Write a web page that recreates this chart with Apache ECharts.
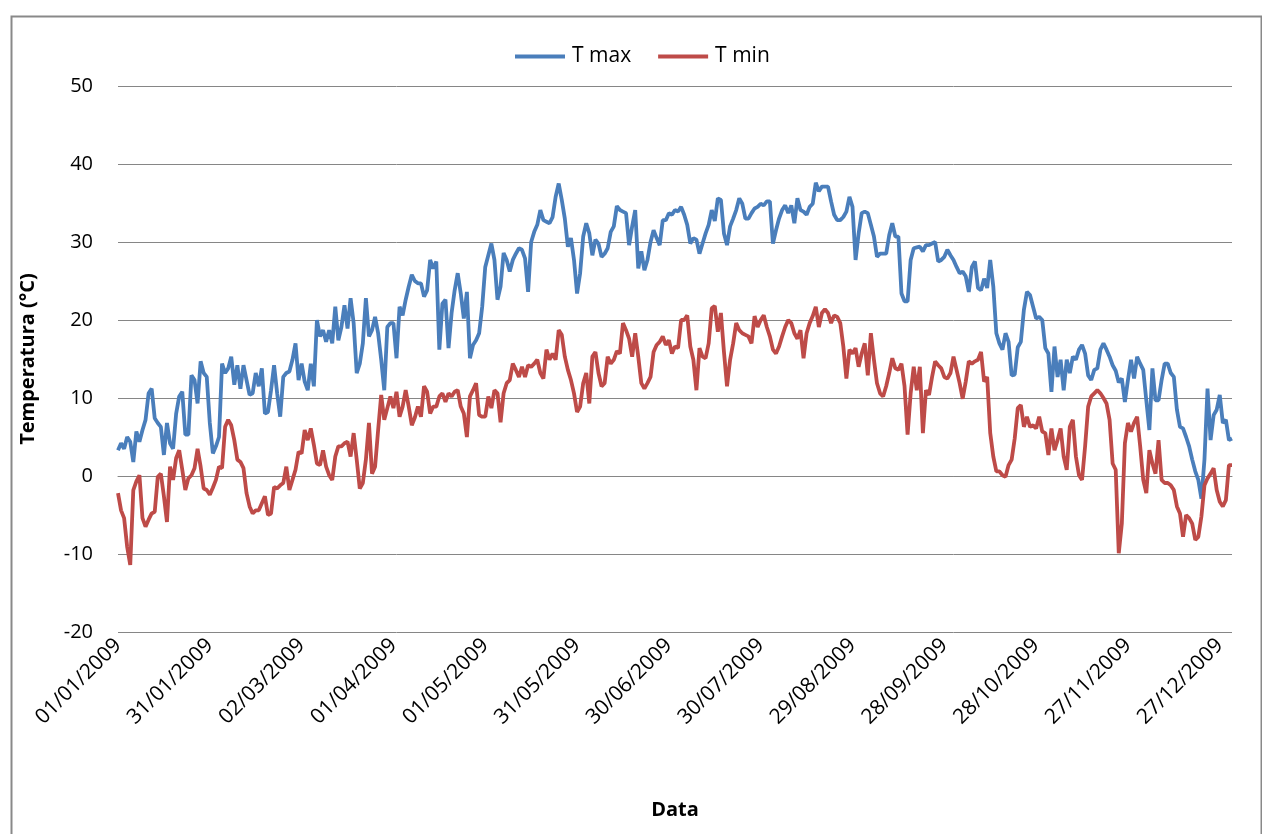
<!DOCTYPE html>
<html>
<head>
<meta charset="utf-8">
<script src="https://cdn.jsdelivr.net/npm/echarts@6/dist/echarts.min.js"></script>
<style>
html,body{margin:0;padding:0;background:#fff;}
#c{width:1262px;height:834px;}
</style>
</head>
<body>
<div id="c"></div>
<script>
const seriesNames = ['T max', 'T min'];
const tMax = [
3.3,4.2,3.5,5.0,4.4,1.8,5.7,4.4,5.9,7.2,
10.6,11.2,7.4,6.8,6.3,2.7,6.8,4.2,3.5,8.0,
10.2,10.8,5.3,5.3,12.9,12.3,9.3,14.7,13.2,12.7,
6.8,2.9,3.8,5.0,14.4,13.2,13.8,15.3,11.7,14.2,
11.2,14.2,12.3,10.4,10.6,13.2,11.5,13.8,8.0,8.2,
11.0,14.2,10.6,7.6,12.7,13.2,13.4,14.9,17.0,12.3,
14.4,12.1,11.0,14.4,11.5,20.0,17.9,18.7,17.2,18.7,
17.0,21.7,17.4,19.1,21.9,18.9,22.8,19.6,13.2,14.4,
17.0,22.8,17.9,18.7,20.4,18.3,14.9,11.0,19.1,19.6,
19.6,15.1,21.7,20.6,22.6,24.3,25.8,25.0,24.7,24.7,
23.0,23.8,27.7,26.6,27.5,16.2,22.1,22.6,16.4,20.9,
23.8,26.0,23.4,20.2,23.6,15.1,16.8,17.4,18.3,21.7,
26.8,28.3,29.8,27.7,22.6,24.3,28.6,27.7,26.2,27.7,
28.5,29.2,29.0,27.9,23.6,30.0,31.3,32.2,34.1,32.8,
32.6,32.4,33.2,35.8,37.5,35.4,33.0,29.4,30.5,27.7,
23.4,26.0,30.7,32.4,31.1,28.3,30.3,29.8,28.1,28.5,
29.2,31.3,32.0,34.6,34.1,33.9,33.7,29.6,32.0,34.1,
26.6,28.8,26.4,27.7,30.0,31.5,30.5,29.6,32.8,32.8,
33.7,33.5,34.1,33.9,34.5,33.5,32.2,29.8,30.5,30.3,
28.5,29.8,31.1,32.2,34.1,32.7,35.6,35.4,31.1,29.6,
32.0,33.0,34.1,35.6,34.9,33.0,33.0,33.7,34.3,34.5,
34.9,34.7,35.2,35.2,29.8,31.5,33.0,34.1,34.7,33.7,
34.7,32.4,35.6,34.1,33.9,33.5,34.5,34.9,37.6,36.5,
37.1,37.1,37.1,35.2,33.5,32.8,32.8,33.2,33.9,35.8,
34.5,27.7,31.1,33.7,33.9,33.7,32.2,30.7,28.1,28.5,
28.5,28.5,30.9,32.4,30.7,30.7,23.4,22.4,22.4,27.7,
29.2,29.3,29.4,28.8,29.6,29.6,29.8,30.0,27.5,27.7,
28.1,29.0,28.3,27.7,26.8,26.0,26.2,25.6,23.6,26.8,
27.5,24.1,23.8,25.3,24.1,27.7,24.3,18.3,17.0,16.2,
18.3,17.2,12.9,13.0,16.5,17.2,21.3,23.6,23.2,21.7,
20.2,20.4,20.0,16.4,15.7,10.8,16.6,12.7,14.9,11.0,
14.9,13.2,15.3,14.9,16.2,16.8,15.7,12.9,12.3,13.6,
13.8,16.2,17.0,16.2,15.3,14.2,13.5,12.0,12.5,9.5,
12.3,14.9,12.5,15.3,14.4,13.6,9.7,5.9,13.8,9.7,
9.7,12.3,14.4,14.4,13.2,12.7,8.5,6.3,6.1,5.0,
3.8,2.1,0.6,-0.5,-2.9,2.1,11.2,4.6,7.8,8.5,
10.4,6.8,7.2,4.6,4.8
];
const tMin = [
-2.2,-4.4,-5.4,-9.1,-11.4,-1.8,-0.7,0.1,-5.4,-6.5,
-5.6,-4.8,-4.6,-0.1,0.3,-2.6,-5.9,1.2,-0.5,2.3,
3.3,0.8,-1.8,-0.3,0.1,1.0,3.5,1.2,-1.6,-1.8,
-2.4,-1.5,-0.5,1.2,1.0,6.3,7.2,6.5,4.6,2.1,
1.8,1.0,-2.2,-3.9,-4.8,-4.4,-4.4,-3.5,-2.6,-5.0,
-4.8,-1.4,-1.6,-1.2,-0.9,1.2,-1.8,-0.5,0.8,3.1,
2.9,5.9,4.6,6.1,4.0,1.6,1.4,3.3,1.2,0.1,
-0.5,2.5,3.8,3.8,4.2,4.4,2.5,5.5,2.1,-1.6,
-0.9,2.1,6.8,0.3,1.2,5.9,10.4,7.2,8.7,10.2,
8.7,10.8,7.6,8.9,11.0,8.9,6.5,7.5,8.9,7.6,
11.5,10.8,8.0,8.9,8.9,10.2,10.6,9.5,10.6,10.2,
10.8,11.0,8.9,8.0,5.0,10.2,11.0,11.9,7.8,7.6,
7.6,10.2,8.7,11.0,10.6,6.9,10.6,11.9,12.3,14.4,
13.6,12.7,14.0,12.7,14.2,14.0,14.4,14.9,13.2,12.5,
16.2,14.9,15.7,14.9,18.7,18.1,15.3,13.6,12.3,10.6,
8.2,8.9,11.9,13.2,9.3,15.3,15.9,13.2,11.5,11.9,
15.3,14.4,14.9,16.0,15.7,19.6,18.7,17.6,15.3,18.3,
15.3,11.9,11.2,11.9,12.7,15.9,16.8,17.2,17.9,16.8,
17.4,15.7,16.6,16.4,20.0,20.0,20.6,16.6,14.9,11.0,
16.4,15.3,15.1,17.0,21.5,21.8,18.5,20.9,15.9,11.5,
14.9,17.0,19.6,18.7,18.3,18.1,17.9,17.0,20.5,19.1,
20.0,20.6,19.1,17.9,16.2,15.7,16.6,17.9,19.1,20.0,
19.6,18.3,17.6,18.7,15.1,18.3,19.6,20.5,21.7,19.1,
20.9,21.4,20.9,19.6,20.6,20.4,19.6,16.6,12.5,16.2,
15.7,16.4,14.0,15.7,17.0,12.9,18.3,14.9,11.9,10.6,
10.2,11.5,13.2,15.1,13.8,13.6,14.4,11.5,5.3,10.6,
14.0,11.0,14.0,5.5,11.0,10.4,12.7,14.7,14.2,13.8,
12.7,12.5,13.2,15.3,13.6,11.9,9.9,12.1,14.7,14.4,
14.7,14.9,15.9,12.1,12.7,5.5,2.5,0.6,0.6,0.1,
-0.1,1.4,2.1,4.8,8.7,9.1,6.3,7.6,6.3,6.5,
6.1,7.6,5.7,5.5,2.7,6.1,3.3,4.6,6.1,2.5,
0.8,6.3,7.2,2.5,0.1,-0.5,3.8,8.9,10.2,10.6,
11.0,10.6,10.0,9.3,7.2,1.6,0.8,-9.9,-6.1,4.2,
6.8,5.7,6.8,7.6,3.8,-0.5,-2.2,3.3,1.6,0.3,
4.6,-0.5,-0.9,-0.9,-1.2,-1.8,-3.9,-4.8,-7.8,-5.0,
-5.4,-6.1,-8.2,-7.8,-5.2,-1.2,-0.3,0.3,1.0,-1.8,
-3.3,-3.9,-3.1,1.4,1.4
];
// categories: every day of 2009, dd/mm/yyyy
const dates = [];
(function(){
  const d = new Date(Date.UTC(2009,0,1));
  for (let i = 0; i < tMax.length; i++) {
    const dd = String(d.getUTCDate()).padStart(2,'0');
    const mm = String(d.getUTCMonth()+1).padStart(2,'0');
    dates.push(dd + '/' + mm + '/' + d.getUTCFullYear());
    d.setUTCDate(d.getUTCDate()+1);
  }
})();
const yTitle = 'Temperatura (°C)';
const xTitle = 'Data';

const FONT = '"Open Sans", Lato, sans-serif';
const chart = echarts.init(document.getElementById('c'), null, {renderer:'canvas'});
chart.setOption({
  backgroundColor: '#fff',
  animation: false,
  graphic: [{
    type: 'rect', left: 9, top: 14,
    shape: {width: 1250, height: 830},
    style: {fill: 'none', stroke: '#898989', lineWidth: 2},
    silent: true, z: -1
  }],
  legend: {
    top: 41, left: 510,
    itemWidth: 50, itemHeight: 4, itemGap: 27,
    icon: 'rect',
    textStyle: {fontFamily: FONT, fontSize: 21, color: '#000', padding: [0, 0, 0, 2]},
    data: seriesNames
  },
  grid: {left: 118, right: 30, top: 86, bottom: 202},
  xAxis: {
    type: 'category',
    data: dates,
    boundaryGap: false,
    name: xTitle,
    nameLocation: 'middle',
    nameGap: 168,
    nameTextStyle: {fontFamily: FONT, fontSize: 20, fontWeight: 'bold', color: '#000'},
    axisLine: {show: true, lineStyle: {color: '#868686', width: 1}},
    axisTick: {show: false},
    axisLabel: {interval: 29, rotate: 45, fontFamily: FONT, fontSize: 21, color: '#000', margin: 10}
  },
  yAxis: {
    type: 'value',
    min: -20, max: 50, interval: 10,
    name: yTitle,
    nameLocation: 'middle',
    nameGap: 80,
    nameTextStyle: {fontFamily: FONT, fontSize: 20, fontWeight: 'bold', color: '#000'},
    axisLine: {show: false},
    axisTick: {show: false},
    axisLabel: {fontFamily: FONT, fontSize: 20, color: '#000', margin: 25},
    splitLine: {lineStyle: {color: '#868686', width: 1}}
  },
  series: [
    {name: seriesNames[0], type: 'line', data: tMax, showSymbol: false, symbol: 'none',
     lineStyle: {color: '#4A7EBB', width: 3.8}, itemStyle: {color: '#4A7EBB'}},
    {name: seriesNames[1], type: 'line', data: tMin, showSymbol: false, symbol: 'none',
     lineStyle: {color: '#BE4B48', width: 3.8}, itemStyle: {color: '#BE4B48'}}
  ]
});
</script>
</body>
</html>
